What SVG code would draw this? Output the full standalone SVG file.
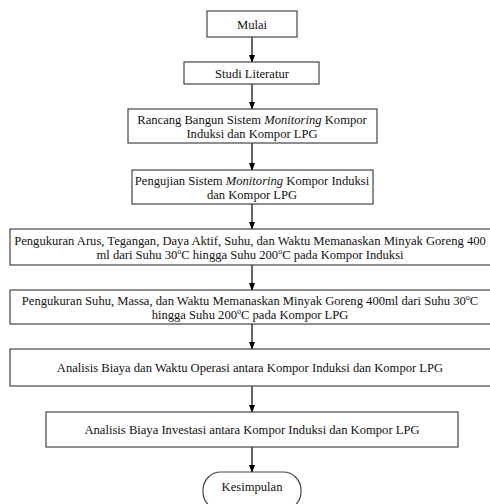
<svg xmlns="http://www.w3.org/2000/svg" width="490" height="504" viewBox="0 0 490 504">
<defs>
<marker id="ah" markerWidth="8" markerHeight="6" refX="7" refY="3" orient="auto" markerUnits="userSpaceOnUse">
<path d="M0,0 L8,3 L0,6 Z" fill="#000"/>
</marker>
<style>
.box{fill:#fff;stroke:#444;stroke-width:1.2}
.t{font-family:"Liberation Serif","Times New Roman",serif;font-size:12.6px;fill:#111;text-anchor:middle}
.c{stroke:#333;stroke-width:1.5;fill:none;marker-end:url(#ah)}
.sup{font-size:8px}
</style>
</defs>
<rect width="490" height="504" fill="#fff"/>
<g id="connectors">
<line class="c" x1="252" y1="37" x2="252" y2="62"/>
<line class="c" x1="252" y1="84" x2="252" y2="109"/>
<line class="c" x1="252" y1="143" x2="252" y2="170"/>
<line class="c" x1="252" y1="204" x2="252" y2="229"/>
<line class="c" x1="252" y1="265" x2="252" y2="290"/>
<line class="c" x1="252" y1="324" x2="252" y2="349"/>
<line class="c" x1="252" y1="386" x2="252" y2="412"/>
<line class="c" x1="252" y1="447" x2="252" y2="472"/>
</g>
<g id="mulai">
<rect class="box" x="207" y="11" width="90" height="26"/>
<text class="t" x="252" y="29">Mulai</text>
</g>
<g id="studi">
<rect class="box" x="184" y="62" width="135" height="22"/>
<text class="t" x="252" y="77.5">Studi Literatur</text>
</g>
<g id="rancang">
<rect class="box" x="128" y="109" width="249" height="34"/>
<text class="t" x="252" y="124">Rancang Bangun Sistem <tspan font-style="italic">Monitoring</tspan> Kompor</text>
<text class="t" x="252" y="138">Induksi dan Kompor LPG</text>
</g>
<g id="pengujian">
<rect class="box" x="132" y="170" width="241" height="34"/>
<text class="t" x="252" y="185">Pengujian Sistem <tspan font-style="italic">Monitoring</tspan> Kompor Induksi</text>
<text class="t" x="252" y="199">dan Kompor LPG</text>
</g>
<g id="ukur-induksi">
<rect class="box" x="10" y="229" width="490" height="36"/>
<text class="t" x="250" y="245">Pengukuran Arus, Tegangan, Daya Aktif, Suhu, dan Waktu Memanaskan Minyak Goreng 400</text>
<text class="t" x="250" y="259">ml dari Suhu 30<tspan class="sup" dy="-5">o</tspan><tspan dy="5">C hingga Suhu 200</tspan><tspan class="sup" dy="-5">o</tspan><tspan dy="5">C  pada Kompor Induksi</tspan></text>
</g>
<g id="ukur-lpg">
<rect class="box" x="10" y="290" width="490" height="34"/>
<text class="t" x="250" y="305">Pengukuran Suhu, Massa, dan Waktu Memanaskan Minyak Goreng 400ml dari Suhu 30<tspan class="sup" dy="-5">o</tspan><tspan dy="5">C</tspan></text>
<text class="t" x="250" y="319">hingga Suhu 200<tspan class="sup" dy="-5">o</tspan><tspan dy="5">C pada Kompor LPG</tspan></text>
</g>
<g id="analisis-operasi">
<rect class="box" x="10" y="349" width="490" height="37"/>
<text class="t" x="250" y="372">Analisis Biaya dan Waktu Operasi antara Kompor Induksi dan Kompor LPG</text>
</g>
<g id="analisis-investasi">
<rect class="box" x="46" y="412" width="412" height="35"/>
<text class="t" x="252" y="434">Analisis Biaya Investasi antara Kompor Induksi dan Kompor LPG</text>
</g>
<g id="kesimpulan">
<rect class="box" x="203" y="472" width="98" height="38" rx="18" ry="18"/>
<text class="t" x="252" y="491">Kesimpulan</text>
</g>
</svg>
